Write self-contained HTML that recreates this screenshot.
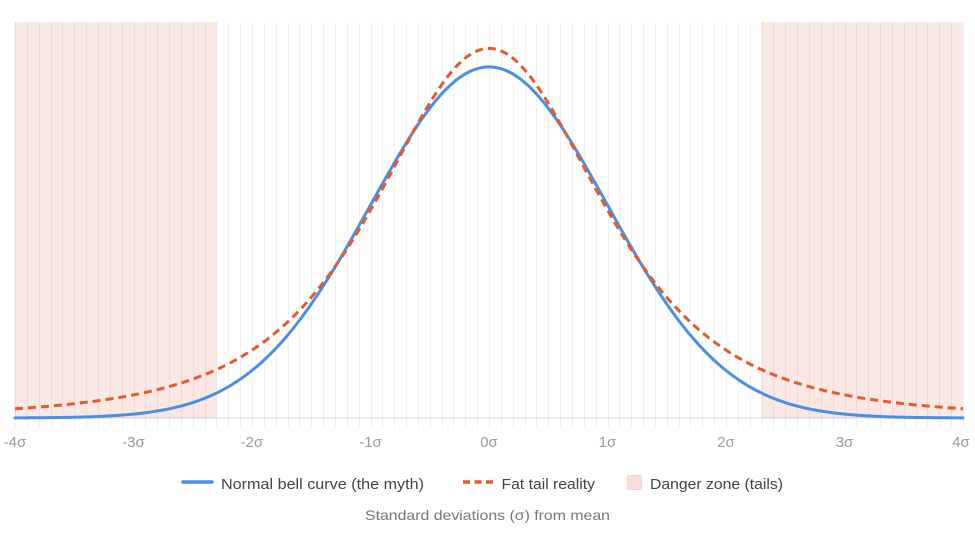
<!DOCTYPE html>
<html>
<head>
<meta charset="utf-8">
<style>
  html, body { margin: 0; padding: 0; background: #ffffff; }
  body { width: 975px; height: 546px; overflow: hidden; }
  svg { display: block; }
  text { font-family: "Liberation Sans", "DejaVu Sans", sans-serif; }
</style>
</head>
<body>
<svg id="chart" width="975" height="546" viewBox="0 0 975 546" xmlns="http://www.w3.org/2000/svg">
  <rect x="0" y="0" width="975" height="546" fill="#ffffff"/>
  <!-- danger zones -->
  <rect x="14.5" y="22" width="202" height="396" fill="#fae8e4"/>
  <rect x="761.5" y="22" width="201.5" height="396" fill="#fae8e4"/>
  <!-- gridlines -->
  <g id="grid" stroke="rgba(0,0,0,0.06)" stroke-width="1"></g>
  <!-- x axis line -->
  <line x1="15" y1="418" x2="963" y2="418" stroke="rgba(0,0,0,0.1)" stroke-width="1.5"/>
  <!-- curves -->
  <path id="normal" d="" fill="none" stroke="#4a90e2" stroke-width="3" stroke-linejoin="round" stroke-linecap="round"/>
  <path id="fat" d="" fill="none" stroke="#e35a2c" stroke-width="3" stroke-dasharray="8 5" stroke-linejoin="round"/>
  <!-- tick labels -->
  <g font-size="15" fill="#999999" text-anchor="middle">
    <text x="15" y="447">-4σ</text>
    <text x="133.5" y="447">-3σ</text>
    <text x="252" y="447">-2σ</text>
    <text x="370.5" y="447">-1σ</text>
    <text x="489" y="447">0σ</text>
    <text x="607.5" y="447">1σ</text>
    <text x="726" y="447">2σ</text>
    <text x="844.5" y="447">3σ</text>
    <text x="961" y="447">4σ</text>
  </g>
  <!-- legend -->
  <line x1="183" y1="482" x2="212" y2="482" stroke="#4a90e2" stroke-width="3.5" stroke-linecap="round"/>
  <text x="221" y="489" font-size="15" fill="#444444" textLength="203" lengthAdjust="spacingAndGlyphs">Normal bell curve (the myth)</text>
  <line x1="463" y1="482" x2="494" y2="482" stroke="#e35a2c" stroke-width="3.5" stroke-dasharray="7 4.5"/>
  <text x="501.5" y="489" font-size="15" fill="#444444" textLength="93.5" lengthAdjust="spacingAndGlyphs">Fat tail reality</text>
  <rect x="627.5" y="475.5" width="14" height="14" rx="1.5" fill="#f8ded8" stroke="#f5d6cf" stroke-width="1"/>
  <text x="650" y="489" font-size="15" fill="#444444" textLength="133" lengthAdjust="spacingAndGlyphs">Danger zone (tails)</text>
  <!-- axis title -->
  <text x="487.5" y="520" font-size="14" fill="#777777" text-anchor="middle" textLength="245" lengthAdjust="spacingAndGlyphs">Standard deviations (σ) from mean</text>
</svg>
<script>
(function(){
  var NS = "http://www.w3.org/2000/svg";
  var grid = document.getElementById("grid");
  function px(i){ return 15 + i * 11.85; }
  function py(v){ return 418 - v * 880; }
  for (var i = 0; i <= 80; i++) {
    var l = document.createElementNS(NS, "line");
    var x = Math.round(px(i)) + 0.5;
    l.setAttribute("x1", x); l.setAttribute("x2", x);
    l.setAttribute("y1", 22); l.setAttribute("y2", 428);
    grid.appendChild(l);
  }
  var dn = "", df = "";
  var steps = 320;
  for (var k = 0; k <= steps; k++) {
    var x = -4 + 8 * k / steps;
    var X = 15 + (x + 4) / 8 * 948;
    var n = Math.exp(-x * x / 2) / Math.sqrt(2 * Math.PI);
    var f = 0.42 * Math.pow(1 + x * x / 3, -2);
    dn += (k ? "L" : "M") + X.toFixed(2) + " " + py(n).toFixed(2);
    df += (k ? "L" : "M") + X.toFixed(2) + " " + py(f).toFixed(2);
  }
  document.getElementById("normal").setAttribute("d", dn);
  document.getElementById("fat").setAttribute("d", df);
})();
</script>
</body>
</html>
